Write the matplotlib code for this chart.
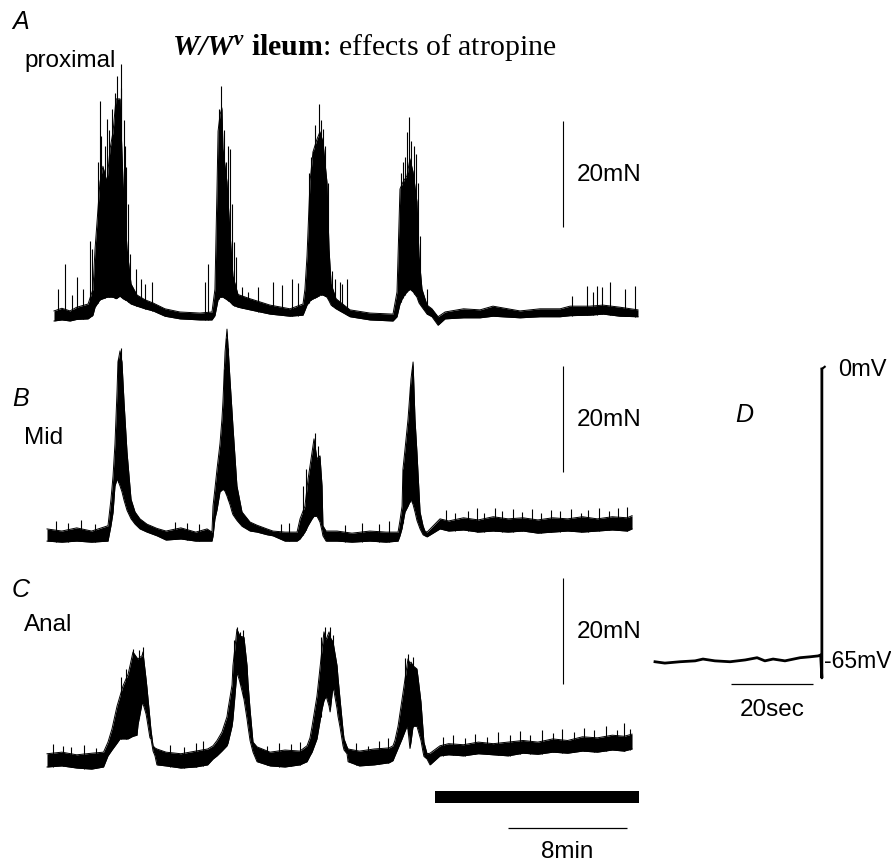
import numpy as np
import matplotlib
matplotlib.use("Agg")
import matplotlib.pyplot as plt
from matplotlib.patches import Rectangle

W, H = 891, 862

plt.rcParams["font.family"] = ["Liberation Sans", "DejaVu Sans"]
plt.rcParams["mathtext.fontset"] = "custom"
plt.rcParams["mathtext.rm"] = "Liberation Serif"
plt.rcParams["mathtext.bf"] = "Liberation Serif:bold"
plt.rcParams["mathtext.it"] = "Liberation Serif:italic"
plt.rcParams["mathtext.bfit"] = "Liberation Serif:italic:bold"

# ---- panel A (proximal): time in min, force in mN (envelope of the trace)
a_t = [0.47, 1.0, 1.55, 2.0, 2.76, 3.09, 3.23, 3.56, 3.76, 4.03, 4.24, 4.44, 4.64, 4.91,
       5.11, 5.38, 5.65, 6.05, 6.59, 7.13, 7.93, 8.94, 10.29, 11.09, 11.29, 11.43, 11.50,
       11.63, 11.76, 11.83, 12.10, 12.30, 12.50, 12.84, 13.65, 14.99, 16.34, 17.21, 17.34,
       17.48, 17.68, 17.88, 18.15, 18.35, 18.55, 18.82, 18.96, 19.10, 19.43, 20.37, 21.71,
       23.26, 23.53, 23.73, 23.93, 24.20, 24.40, 24.61, 24.87, 25.01, 25.21, 25.55, 25.88,
       26.29, 26.76, 28.0, 29.11, 29.98, 31.80, 33.14, 34.49, 35.16, 36.50, 37.38, 38.52, 39.73]
a_up = [1.9, 2.4, 1.9, 2.6, 3.2, 6.0, 13.6, 26.2, 29.2, 26.2, 32.5, 35.7, 41.9, 41.9,
        26.2, 13.6, 7.0, 4.9, 4.0, 3.4, 2.3, 1.7, 1.5, 1.7, 6.0, 25.1, 35.8,
        38.9, 40.2, 32.5, 26.2, 16.8, 8.5, 5.0, 4.2, 3.0, 2.3, 3.2, 6.0,
        12.3, 26.2, 31.9, 34.3, 35.7, 33.8, 26.2, 13.6, 7.0, 4.2, 2.1, 1.5,
        1.3, 5.5, 24.9, 26.2, 27.4, 30.6, 28.1, 22.5, 12.3, 6.0, 3.0, 2.3,
        0.8, 1.7, 2.3, 2.1, 2.8, 1.9, 2.3, 2.3, 2.8, 2.8, 3.0, 2.6, 2.1]
a_lo = [0.0, 0.2, 0.0, 0.3, 0.4, 1.1, 2.6, 4.0, 4.2, 4.5, 4.5, 4.5, 4.2, 4.7,
        4.2, 3.8, 3.2, 2.8, 2.3, 1.9, 0.9, 0.4, 0.2, 0.2, 1.0, 3.0, 4.0,
        4.5, 4.5, 4.5, 4.0, 3.6, 3.0, 2.6, 2.1, 1.3, 0.9, 1.1, 2.0,
        3.0, 3.8, 4.2, 4.5, 4.9, 4.9, 4.5, 3.8, 3.0, 2.3, 0.8, 0.2,
        0.0, 0.8, 3.2, 4.5, 5.5, 6.0, 5.5, 4.5, 3.4, 2.6, 1.3, 0.8,
        -0.8, 0.4, 0.6, 0.6, 0.9, 0.6, 0.8, 0.8, 1.0, 1.1, 1.3, 0.9, 0.8]
a_spk_t = [0.74, 1.21, 1.7, 2.02, 2.42, 2.89, 3.03,
           3.4, 3.56, 3.65, 3.9, 4.03, 4.15, 4.37, 4.55, 4.71, 4.8, 4.97, 5.0, 5.18, 5.25,
           5.31, 5.45,
           5.58, 5.98, 6.3, 6.59, 7.06, 10.6, 10.8,
           11.55, 11.70, 11.9, 12.0, 12.17, 12.30, 12.44, 12.6, 12.7,
           13.1, 13.5, 14.2, 15.2, 15.8, 16.5, 16.9,
           17.6, 17.75, 17.9, 18.05, 18.29, 18.45, 18.55, 18.7, 18.9,
           19.16, 19.36, 19.70, 19.83, 20.17,
           23.8, 23.9, 24.05, 24.20, 24.34, 24.5, 24.7, 24.81, 24.95, 25.05, 25.55,
           35.3, 36.3, 36.7, 37.0, 37.3, 37.85, 38.85, 39.5]
a_spk_f = [6.0, 10.8, 5.0, 8.3, 6.0, 15.1, 13.6,
           30.0, 41.5, 35.0, 33.0, 38.1, 36.0, 40.0, 43.0, 46.2, 39.0, 48.5, 44.0, 38.0, 33.0,
           29.0, 22.0,
           12.6, 9.8, 8.0, 7.0, 7.4, 7.4, 10.8,
           40.0, 44.3, 36.0, 30.0, 33.0, 32.5, 22.0, 15.0, 12.0,
           6.5, 5.5, 6.5, 7.4, 6.8, 8.0, 7.2,
           28.0, 31.0, 32.0, 37.0, 40.9, 38.0, 36.2, 33.0, 26.0,
           9.4, 7.9, 7.4, 7.0, 7.9,
           28.0, 30.0, 31.0, 35.7, 38.5, 34.0, 33.0, 31.5, 26.0, 16.0, 6.0,
           4.7, 6.6, 5.5, 6.6, 6.4, 7.4, 6.0, 6.6]

# ---- panel B (mid)
b_t = [0.0, 1.0, 2.0, 3.0,
       4.10, 4.30, 4.44, 4.57, 4.71, 4.77, 4.91, 5.04, 5.18, 5.38, 5.65, 5.92, 6.25, 6.72, 7.39,
       8.0, 9.0, 10.0, 10.76,
       11.09, 11.16, 11.29, 11.43, 11.63, 11.76, 11.83, 11.97, 12.10, 12.30, 12.44, 12.50, 12.77,
       13.11, 13.65, 14.12, 14.79, 15.19, 16.0,
       16.81, 17.01, 17.34, 17.55, 17.82, 17.95, 18.15, 18.35, 18.49, 18.55, 18.76,
       19.5, 20.5, 21.7, 22.8,
       23.60, 23.73, 23.87, 23.93, 24.07, 24.27, 24.47, 24.61, 24.74, 24.87, 25.08, 25.28, 25.41, 25.55,
       26.42, 27.0, 28.0, 29.0, 30.0, 31.0, 32.0, 33.0, 34.0, 35.0, 36.0, 37.0, 38.0, 39.0, 39.33]
b_up = [1.9, 1.5, 2.1, 1.5,
        2.5, 7.5, 11.9, 18.0, 28.0, 33.4, 35.5, 33.4, 25.8, 16.4, 7.5, 5.1, 3.8, 2.8, 2.0,
        1.5, 2.1, 1.3, 1.9,
        1.3, 6.2, 9.5, 13.2, 18.0, 22.6, 26.0, 35.3, 39.6, 30.2, 24.0, 21.3, 10.0,
        5.1, 3.2, 2.6, 1.9, 1.5, 1.3,
        1.3, 3.8, 6.2, 11.3, 16.4, 18.9, 15.1, 15.7, 10.0, 2.5, 1.5,
        1.5, 1.1, 1.5, 1.3,
        1.3, 3.5, 6.2, 13.2, 17.0, 22.6, 30.2, 33.4, 22.6, 16.4, 5.1, 2.5, 1.5, 1.3,
        3.8, 3.4, 4.0, 3.6, 4.2, 3.8, 4.0, 3.6, 4.0, 3.8, 4.2, 3.8, 4.2, 4.0, 4.4]
b_lo = [-0.4, -0.6, -0.4, -0.6,
        -0.4, 2.5, 5.0, 10.0, 11.3, 11.0, 10.0, 8.9, 7.3, 5.4, 3.8, 2.8, 1.9, 1.3, 0.6,
        -0.2, 0.0, -0.4, -0.4,
        -0.4, 0.5, 3.8, 5.5, 8.9, 9.2, 9.4, 9.0, 8.1, 6.5, 5.1, 4.6, 3.5,
        2.4, 1.5, 1.3, 0.8, 0.6, -0.4,
        -0.4, 0.0, 1.3, 2.5, 3.8, 4.3, 4.3, 3.2, 1.5, 0.6, -0.4,
        -0.4, -0.6, -0.4, -0.6,
        -0.4, 0.6, 2.0, 3.0, 5.1, 6.2, 7.5, 6.5, 5.1, 3.5, 1.9, 0.8, 0.6, 0.4,
        1.9, 1.5, 1.7, 1.3, 1.5, 1.3, 1.5, 1.1, 1.3, 1.5, 1.3, 1.5, 1.7, 1.5, 1.9]
b_spk_t = [0.6, 1.4, 2.3, 3.2, 4.8, 4.95, 8.6, 9.4, 10.2, 11.9, 12.05, 12.2,
           15.7, 16.3, 17.21, 17.41, 18.0, 18.2,
           20.0, 21.2, 22.3, 23.0, 23.93, 24.40, 24.55,
           26.8, 27.4, 28.3, 28.9, 29.4, 30.1, 30.6, 31.3, 31.9, 32.6, 33.2, 33.9, 34.5,
           35.2, 35.9, 36.4, 37.1, 37.8, 38.4, 39.0]
b_spk_f = [3.4, 3.0, 3.6, 2.8, 34.0, 36.0, 3.2, 3.0, 2.8, 32.0, 38.0, 36.0,
           2.8, 3.0, 10.0, 13.2, 20.0, 17.5,
           2.6, 3.0, 2.8, 3.4, 13.2, 28.9, 32.0,
           5.5, 5.0, 5.3, 5.8, 5.0, 5.9, 5.3, 5.6, 5.1, 5.7, 5.0, 5.4, 5.2,
           5.6, 5.0, 5.5, 5.9, 5.3, 5.8, 6.0]

# ---- panel C (anal)
c_t = [0.0, 1.0, 2.0, 3.0, 3.8,
       4.10, 4.37, 4.71, 4.91, 5.11, 5.45, 5.58, 5.78, 6.05, 6.12, 6.39, 6.45, 6.66, 6.72,
       6.92, 6.99, 7.13, 7.26, 7.39,
       8.0, 9.0, 10.0, 10.8,
       11.16, 11.43, 11.76, 12.10, 12.17, 12.44, 12.50, 12.77, 12.97, 13.24, 13.45, 13.51,
       13.65, 13.85, 14.12,
       15.0, 16.0, 17.0,
       17.48, 17.68, 17.82, 18.15, 18.49, 18.62, 18.76, 18.96, 19.03, 19.23, 19.50, 19.56,
       19.70, 19.90, 19.97, 20.17, 20.24,
       21.0, 22.0, 23.0,
       23.26, 23.39, 23.60, 23.87, 24.20, 24.27, 24.40, 24.47, 24.61, 24.87, 24.94, 25.14,
       25.28, 25.34, 25.55,
       25.75, 26.42, 27.0, 28.0, 29.0, 30.0, 31.0, 32.0, 33.0, 34.0, 35.0, 36.0, 37.0, 38.0,
       38.8, 39.33]
c_up = [2.5, 2.8, 2.3, 2.6, 2.8,
        4.7, 7.2, 11.5, 13.4, 15.3, 17.5, 19.1, 21.7, 20.6, 20.4, 21.0, 21.7, 16.6, 15.0,
        9.1, 7.0, 4.0, 3.6, 3.4,
        2.8, 2.5, 3.0, 3.4,
        4.0, 5.0, 6.6, 9.5, 10.9, 15.5, 19.1, 26.0, 24.7, 24.5, 19.1, 16.0,
        10.9, 4.7, 3.8,
        2.8, 3.2, 3.0,
        4.0, 5.5, 7.7, 13.4, 22.3, 25.5, 24.0, 25.5, 24.5, 23.6, 19.1, 17.0,
        12.8, 7.0, 5.3, 3.8, 3.4,
        3.0, 3.4, 3.6,
        4.0, 5.0, 7.7, 12.8, 19.1, 20.4, 19.5, 19.8, 19.1, 18.5, 17.0, 12.3,
        7.0, 4.7, 2.5,
        2.6, 4.0, 4.4, 4.2, 4.7, 4.4, 4.7, 5.0, 4.7, 5.3, 5.0, 5.7, 5.5, 6.0,
        5.8, 6.2]
c_lo = [0.0, 0.2, -0.2, -0.4, 0.0,
        2.1, 3.2, 4.5, 5.3, 5.3, 5.3, 5.5, 5.8, 6.0, 8.0, 12.0, 12.0, 10.0, 9.0,
        5.5, 5.3, 3.0, 2.1, 0.4,
        0.2, -0.2, 0.0, 0.4,
        1.5, 2.1, 3.0, 4.0, 4.5, 7.7, 9.0, 17.9, 16.0, 12.8, 9.0, 7.7,
        5.0, 2.8, 1.0,
        0.2, 0.0, 0.4,
        1.0, 2.1, 2.8, 5.3, 10.9, 12.5, 13.4, 11.5, 10.4, 15.3, 11.0, 9.6,
        7.5, 4.0, 3.2, 2.5, 1.0,
        0.2, 0.4, 0.8,
        1.2, 2.1, 3.5, 5.3, 7.7, 7.0, 3.5, 4.7, 7.7, 7.7, 7.0, 5.0,
        2.8, 2.0, 1.5,
        0.4, 2.1, 2.3, 2.1, 2.5, 2.3, 2.1, 2.6, 2.4, 2.8, 2.6, 3.0, 2.8, 3.2,
        3.0, 3.4]
c_spk_t = [0.4, 1.1, 1.6, 2.5, 3.3, 5.0, 5.3, 5.78, 6.2, 6.45, 8.3, 9.2, 10.0, 10.5,
           12.6, 12.77, 13.0, 13.2,
           14.8, 15.6, 16.4, 17.0, 18.4, 18.7, 19.0, 19.2, 20.8, 21.6, 22.3, 22.9,
           24.1, 24.3, 24.6,
           26.6, 27.3, 28.1, 28.8, 29.6, 30.3, 31.1, 31.8, 32.5, 33.3, 34.0, 34.6, 35.4,
           36.1, 36.8, 37.6, 38.3, 38.8, 39.2]
c_spk_f = [4.3, 4.0, 3.8, 4.2, 3.6, 17.0, 18.5, 22.3, 22.0, 22.6, 4.2, 3.8, 4.5, 4.9,
           24.0, 26.4, 25.5, 25.8,
           4.0, 4.5, 4.3, 4.7, 24.5, 26.4, 26.4, 25.0, 4.5, 4.0, 4.9, 5.5,
           20.5, 21.4, 20.8,
           5.6, 6.0, 5.5, 6.2, 5.7, 6.6, 6.0, 6.8, 6.1, 7.0, 6.4, 7.2, 6.6,
           7.4, 7.0, 7.7, 7.0, 8.3, 7.2]

# ---- panel D: membrane potential (s, mV)
d_t = [0, 2.4, 6.1, 9.8, 11.7, 14.6, 18.3, 22.0, 24.9, 26.8, 28.8, 31.7, 35.4, 37.8, 39.8, 40.4]
d_v = [-65.2, -65.5, -65.2, -65.0, -64.6, -65.0, -65.2, -64.8, -64.3, -65.0, -64.6, -65.0,
       -64.3, -64.1, -63.9, -63.7]
d_step_t = 40.7
d_step_lo, d_step_hi = -68.8, 0.0

atropine_on, atropine_off = 26.08, 39.8   # min, black bar
time_bar = 8        # min
force_bar = 20      # mN
d_time_bar = 20     # s

fig = plt.figure(figsize=(W / 100, H / 100), dpi=100)


def trace_axes(x0, y0, px_x, px_y):
    # overlay axes: data origin sits at pixel (x0, y0)
    ax = fig.add_axes([0, 0, 1, 1])
    ax.set_xlim(-x0 / px_x, (W - x0) / px_x)
    ax.set_ylim((y0 - H) / px_y, y0 / px_y)
    ax.axis("off")
    ax.patch.set_alpha(0)
    return ax


def draw_trace(ax, t, up, lo, st, sf):
    ax.fill_between(t, lo, up, color="black", lw=0)
    ax.plot(t, up, color="black", lw=0.7)
    ax.plot(t, lo, color="black", lw=0.7)
    base = np.interp(st, t, lo)
    ax.vlines(st, base, sf, color="black", lw=0.8)


PX_MIN, PX_MN = 14.875, 5.3
axA = trace_axes(47, 322, PX_MIN, PX_MN)
axB = trace_axes(47, 540, PX_MIN, PX_MN)
axC = trace_axes(47, 768, PX_MIN, PX_MN)

draw_trace(axA, a_t, a_up, a_lo, a_spk_t, a_spk_f)
draw_trace(axB, b_t, b_up, b_lo, b_spk_t, b_spk_f)
draw_trace(axC, c_t, c_up, c_lo, c_spk_t, c_spk_f)

# 20 mN calibration bars
for ax, y0 in [(axA, 17.7), (axB, 12.6), (axC, 15.7)]:
    ax.vlines(34.69, y0, y0 + force_bar, color="black", lw=0.8)
    ax.text(35.63, y0 + force_bar / 2, "20mN", fontsize=17.5, va="center", ha="left")

# atropine bar and time scale
axC.add_patch(Rectangle((atropine_on, -6.8), atropine_off - atropine_on, 2.3,
                        color="black", lw=0))
axC.hlines(-11.5, 31.0, 31.0 + time_bar, color="black", lw=0.9)
axC.text(31.0 + time_bar / 2, -15.8, "8min", fontsize=17.5, ha="center", va="center")

# panel D
axD = trace_axes(655, 370, 4.1, 4.49)
axD.plot(d_t + [d_step_t, d_step_t], d_v + [d_step_lo, d_step_hi], color="black", lw=2.0)
axD.plot([d_step_t, d_step_t + 0.7], [d_step_hi, d_step_hi + 0.5], color="black", lw=1.5)
axD.hlines(-70.2, 18.5, 18.5 + d_time_bar, color="black", lw=0.9)
axD.text(28.5, -75.7, "20sec", fontsize=17.5, ha="center", va="center")
axD.text(44.6, 0, "0mV", fontsize=17, ha="left", va="center")
axD.text(41.2, -65, "-65mV", fontsize=16.5, ha="left", va="center")


def ftext(x, y, s, **kw):
    fig.text(x / W, 1 - y / H, s, **kw)


ftext(12, 22, "A", fontsize=18, style="italic", va="center")
ftext(24, 61, "proximal", fontsize=17.5, va="center")
ftext(12, 399, "B", fontsize=18, style="italic", va="center")
ftext(24, 438, "Mid", fontsize=17.5, va="center")
ftext(12, 590, "C", fontsize=18, style="italic", va="center")
ftext(24, 625, "Anal", fontsize=17.5, va="center")
ftext(735, 415, "D", fontsize=18, style="italic", va="center")
ftext(172, 55, r"$\mathbfit{W/W^{v}}$ $\mathbf{ileum}$: effects of atropine",
      fontsize=21.5, family="Liberation Serif", va="baseline")

fig.savefig("out.png", dpi=100)
